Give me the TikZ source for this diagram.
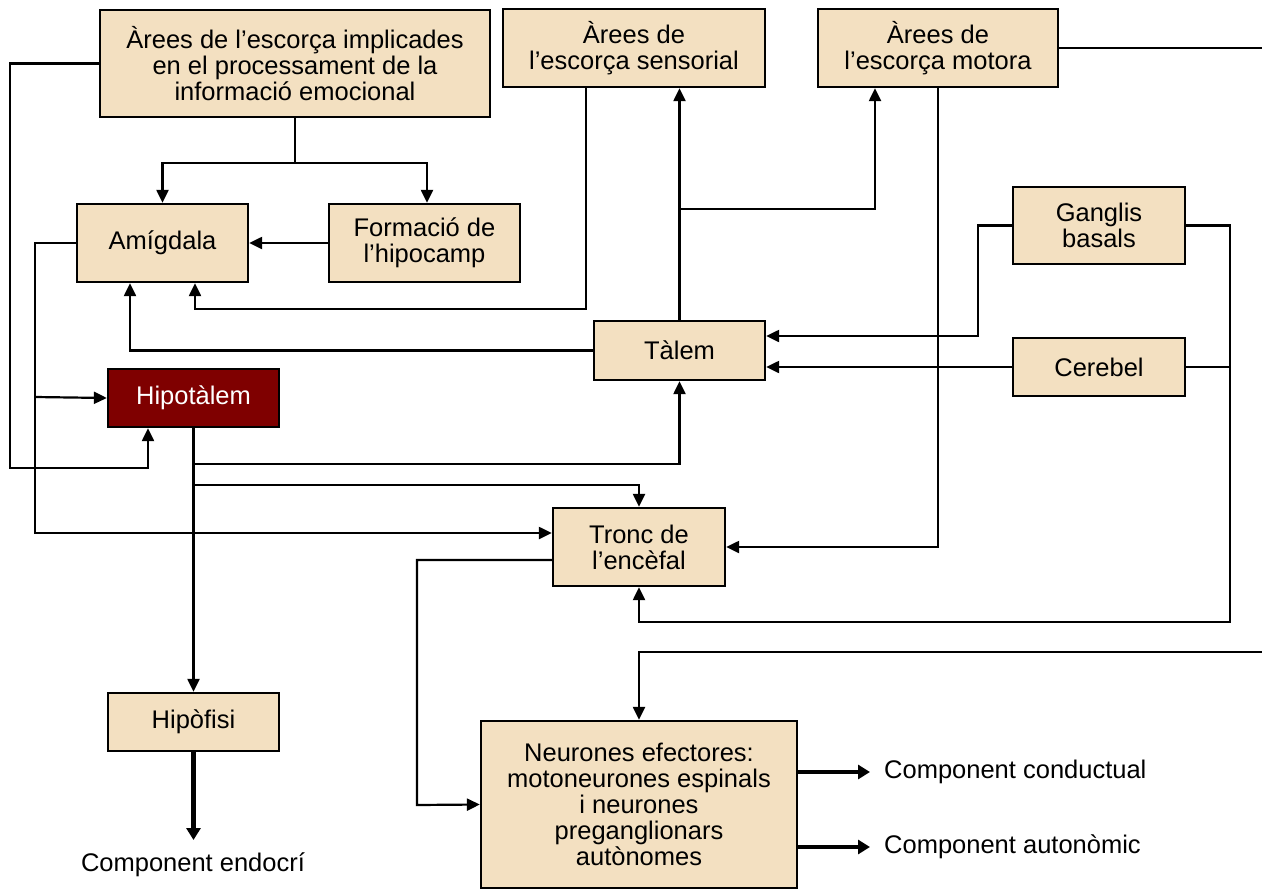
\documentclass[tikz,border=0pt]{standalone}
\usepackage{fontspec}
\setmainfont{Liberation Sans}
\usetikzlibrary{arrows.meta}
\definecolor{boxfill}{RGB}{243,224,193}
\definecolor{hypfill}{RGB}{127,0,0}
\begin{document}
\begin{tikzpicture}[x=1pt,y=-1pt,
  box/.style={draw=black, line width=2.3pt, fill=boxfill, inner sep=0pt, align=center,
    font=\fontsize{25.5}{26}\selectfont},
  lbl/.style={inner sep=0pt, font=\fontsize{25.5}{26}\selectfont},
  conn/.style={line width=2.2pt},
  arr/.style={conn, -{Triangle[length=13pt,width=12pt]}},
  thick arr/.style={line width=4.5pt, -{Triangle[length=12pt,width=14pt]}}]
\useasboundingbox (0,0) rectangle (1262,889);

% boxes
\node[box, minimum width=390pt, minimum height=107pt] (emo) at (295,63.5)
  {Àrees de l’escorça implicades\\en el processament de la\\informació emocional};
\node[box, minimum width=262pt, minimum height=78pt] (sens) at (634,48) {Àrees de\\l’escorça sensorial};
\node[box, minimum width=240pt, minimum height=78pt] (mot) at (938,48) {Àrees de\\l’escorça motora};
\node[box, minimum width=171pt, minimum height=78pt] (amig) at (162.5,243) {Amígdala};
\node[box, minimum width=191pt, minimum height=78pt] (hipc) at (424.5,243) {Formació de\\l’hipocamp};
\node[box, minimum width=172pt, minimum height=77pt] (gang) at (1099,225.5) {Ganglis\\basals};
\node[box, minimum width=171pt, minimum height=59pt] (tal) at (679.5,350.5) {Tàlem};
\node[box, minimum width=172pt, minimum height=58pt] (cer) at (1099,367) {Cerebel};
\node[box, fill=hypfill, text=white, minimum width=171pt, minimum height=58pt] (hyp) at (193.5,398) {Hipotàlem};
\node[box, minimum width=172pt, minimum height=78pt] (tronc) at (639,547) {Tronc de\\l’encèfal};
\node[box, minimum width=171pt, minimum height=58pt] (hypo) at (193.5,722) {Hipòfisi};
\node[box, minimum width=316pt, minimum height=167pt] (neur) at (639,804.5)
  {Neurones efectores:\\motoneurones espinals\\i neurones\\preganglionars\\autònomes};

% output labels
\node[lbl] (endo) at (193,865) {Component endocrí};
\node[lbl, anchor=west] (cond) at (884,772) {Component conductual};
\node[lbl, anchor=west] (auton) at (884,847) {Component autonòmic};

% free ends at the right margin
\coordinate (edgeA) at (1262,48);
\coordinate (edgeB) at (1262,652);
\coordinate (endoTip) at (193.5,840);

% cortex of emotional processing
\draw[conn] (emo.south) -- (295,163) coordinate (e1);
\draw[arr] (e1) -| (amig.north);
\draw[arr] (e1) -| ([xshift=2.5pt]hipc.north);
\draw[arr] (hipc.west) -- (amig.east);
\draw[arr] (emo.west) -| (10,468) -| ([xshift=-45.5pt]hyp.south);

% amygdala outputs
\draw[arr] (amig.west) -| (35,533) -- ([yshift=14pt]tronc.west);
\draw[arr] (35,397) -- (hyp.west);

% sensory cortex and thalamus to amygdala
\draw[arr] ([xshift=-48pt]sens.south) |- (195,309) -- ([xshift=32.5pt]amig.south);
\draw[arr] (tal.west) -| ([xshift=-32.5pt]amig.south);

% thalamus to the cortex
\draw[arr] (tal.north) -- (tal.north |- sens.south);
\draw[arr] (tal.north |- 0,209) -| ([xshift=-63pt]mot.south);

% motor cortex
\draw[arr] (mot.south) |- (tronc.east);
\draw[conn] (mot.east) -- (edgeA);
\draw[arr] (edgeB) -| (neur.north);

% basal ganglia and cerebellum
\draw[arr] (gang.west) -| (978,336) -- ([yshift=14.5pt]tal.east);
\draw[arr] (cer.west) -- (cer.west -| tal.east);
\draw[arr] (gang.east) -| (1230,622) -| (tronc.south);
\draw[conn] (cer.east) -- (1230,367);

% hypothalamus outputs
\draw[arr] (hyp.south) -- (hypo.north);
\draw[arr] (193.5,464) -| (tal.south);
\draw[arr] (193.5,485) -| (tronc.north);

% brainstem to effector neurons
\draw[arr] ([yshift=-13pt]tronc.west) -| (417,805) -- (neur.west);

% response components
\draw[thick arr] (hypo.south) -- (endoTip);
\draw[thick arr] (neur.east |- cond.west) -- ([xshift=-14pt]cond.west);
\draw[thick arr] (neur.east |- auton.west) -- ([xshift=-14pt]auton.west);
\end{tikzpicture}
\end{document}
